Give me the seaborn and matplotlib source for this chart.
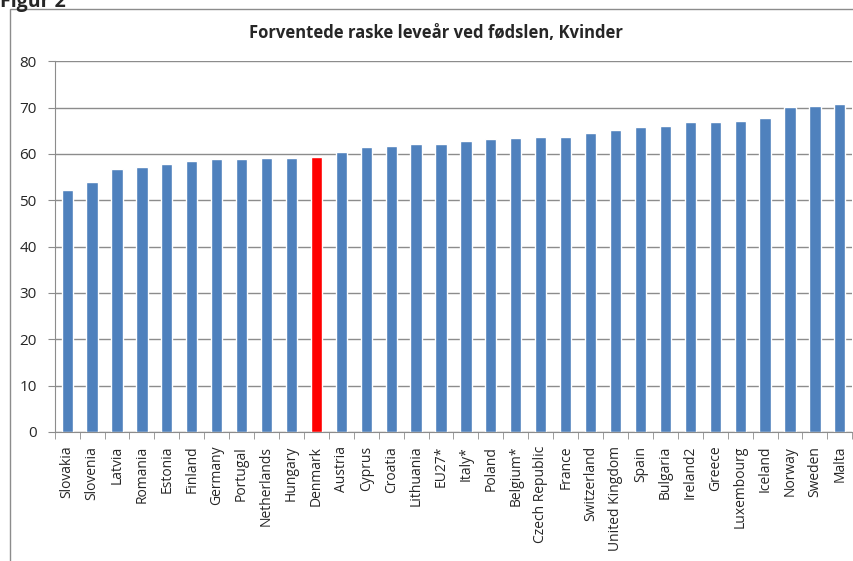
import matplotlib
matplotlib.use("Agg")
import numpy as np
import pandas as pd
import seaborn as sns
import matplotlib.pyplot as plt
from matplotlib.patches import Rectangle

# data
countries = ["Slovakia", "Slovenia", "Latvia", "Romania", "Estonia", "Finland",
             "Germany", "Portugal", "Netherlands", "Hungary", "Denmark", "Austria",
             "Cyprus", "Croatia", "Lithuania", "EU27*", "Italy*", "Poland",
             "Belgium*", "Czech Republic", "France", "Switzerland", "United Kingdom",
             "Spain", "Bulgaria", "Ireland2", "Greece", "Luxembourg", "Iceland",
             "Norway", "Sweden", "Malta"]
years = [52.3, 53.9, 56.7, 57.1, 57.8, 58.4,
         58.8, 58.8, 59.0, 59.2, 59.4, 60.5,
         61.4, 61.8, 62.2, 62.2, 62.8, 63.3,
         63.5, 63.7, 63.7, 64.6, 65.2,
         65.8, 66.0, 66.9, 66.9, 67.1, 67.7,
         70.2, 70.3, 70.7]
title = "Forventede raske leveår ved fødslen, Kvinder"

df = pd.DataFrame({"country": countries, "years": years})
colors = ["#FF0000" if c == "Denmark" else "#4F81BD" for c in countries]

sns.set_style("white")
plt.rcParams['font.family'] = ['Open Sans', 'DejaVu Sans']

fig = plt.figure(figsize=(8.54, 5.61), dpi=100)
ax = fig.add_axes([0.064, 0.23, 0.934, 0.661])

sns.barplot(data=df, x="country", y="years", hue="country", palette=colors,
            width=0.45, legend=False, saturation=1, ax=ax)

ax.set_ylim(0, 80)
ax.set_xlim(-0.5, len(countries) - 0.5)
ax.set_yticks(np.arange(0, 81, 10))
ax.yaxis.grid(True, color="#8c8c8c", linewidth=1)
ax.set_axisbelow(True)
ax.set_xlabel("")
ax.set_ylabel("")

for s in ["top", "right"]:
    ax.spines[s].set_visible(False)
ax.spines["left"].set_color("#8c8c8c")
ax.spines["bottom"].set_color("#8c8c8c")

ax.tick_params(axis="y", length=5, color="#8c8c8c", labelsize=11, pad=8,
               direction="out", left=True)
ax.set_xticks(np.arange(len(countries)))
ax.set_xticklabels(countries, rotation=90, fontsize=10)
ax.tick_params(axis="x", length=0, pad=10)
ax.set_xticks(np.arange(len(countries) + 1) - 0.5, minor=True)
ax.tick_params(axis="x", which="minor", length=5, color="#8c8c8c", direction="out", bottom=True)

fig.text(436 / 854, 1 - 33 / 561, title, fontsize=12, fontweight="bold",
         ha="center", va="center")

# outer chart frame (cut off at right and bottom like the reference)
fig.patches.append(Rectangle((10 / 854, -0.05), 1.2, 1 - 9 / 561 + 0.05,
                             transform=fig.transFigure, fill=False,
                             edgecolor="#8c8c8c", linewidth=1))
fig.text(0.0, 1 - 7 / 561, "Figur 2", fontsize=14, fontweight="bold",
         ha="left", va="baseline")

fig.savefig("out.png", dpi=100)
